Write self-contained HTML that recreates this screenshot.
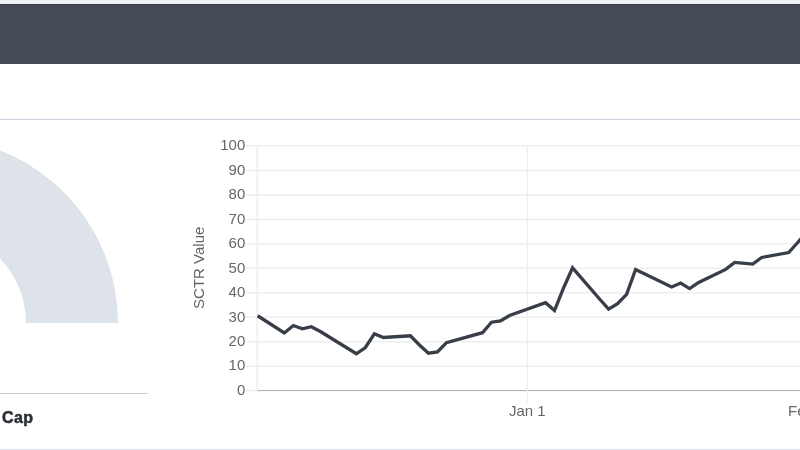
<!DOCTYPE html>
<html><head><meta charset="utf-8">
<style>
html,body{margin:0;padding:0;width:800px;height:450px;overflow:hidden;background:#fff;}
body{position:relative;font-family:"Liberation Sans",sans-serif;}
.strip{position:absolute;left:0;top:0;width:800px;height:4px;background:#eff3f6;}
.band{position:absolute;left:0;top:4px;width:800px;height:60px;background:#454b56;border-top:1px solid #3a404a;box-sizing:border-box;}
.div1{position:absolute;left:0;top:119px;width:800px;height:1px;background:#c8d3dd;}
.capline{position:absolute;left:0;top:393px;width:148px;height:1px;background:#c4cfd9;}
.cap{position:absolute;left:2px;top:408px;font-size:16px;font-weight:bold;color:#2b3037;line-height:20px;will-change:transform;-webkit-text-stroke:0.5px #2b3037;letter-spacing:0.4px;}
.bot{position:absolute;left:0;top:449px;width:800px;height:1px;background:#dee4ea;}
svg{position:absolute;left:0;top:0;will-change:transform;}
</style></head><body>
<div class="strip"></div>
<div class="band"></div>
<div class="div1"></div>
<svg width="800" height="450" viewBox="0 0 800 450">
<path d="M -252 323 A 185 185 0 0 1 118 323 L 26 323 A 93 93 0 0 0 -160 323 Z" fill="#dde3e9"/>
<g><line x1="246" y1="390.60" x2="257.3" y2="390.60" stroke="#eeeeee" stroke-width="1.5"/><line x1="257.3" y1="390.60" x2="800" y2="390.60" stroke="#ababab" stroke-width="1"/><line x1="246" y1="366.14" x2="800" y2="366.14" stroke="#eeeeee" stroke-width="1.5"/><line x1="246" y1="341.68" x2="800" y2="341.68" stroke="#eeeeee" stroke-width="1.5"/><line x1="246" y1="317.22" x2="800" y2="317.22" stroke="#eeeeee" stroke-width="1.5"/><line x1="246" y1="292.76" x2="800" y2="292.76" stroke="#eeeeee" stroke-width="1.5"/><line x1="246" y1="268.30" x2="800" y2="268.30" stroke="#eeeeee" stroke-width="1.5"/><line x1="246" y1="243.84" x2="800" y2="243.84" stroke="#eeeeee" stroke-width="1.5"/><line x1="246" y1="219.38" x2="800" y2="219.38" stroke="#eeeeee" stroke-width="1.5"/><line x1="246" y1="194.92" x2="800" y2="194.92" stroke="#eeeeee" stroke-width="1.5"/><line x1="246" y1="170.46" x2="800" y2="170.46" stroke="#eeeeee" stroke-width="1.5"/><line x1="246" y1="146.00" x2="800" y2="146.00" stroke="#eeeeee" stroke-width="1.5"/>
<line x1="257.3" y1="146" x2="257.3" y2="390.6" stroke="#eeeeee" stroke-width="1.5"/>
<line x1="527.5" y1="146" x2="527.5" y2="402.5" stroke="#eeeeee" stroke-width="1.5"/>
</g>
<g font-family="Liberation Sans" font-size="15" fill="#666"><text x="245.3" y="394.90" text-anchor="end">0</text><text x="245.3" y="370.44" text-anchor="end">10</text><text x="245.3" y="345.98" text-anchor="end">20</text><text x="245.3" y="321.52" text-anchor="end">30</text><text x="245.3" y="297.06" text-anchor="end">40</text><text x="245.3" y="272.60" text-anchor="end">50</text><text x="245.3" y="248.14" text-anchor="end">60</text><text x="245.3" y="223.68" text-anchor="end">70</text><text x="245.3" y="199.22" text-anchor="end">80</text><text x="245.3" y="174.76" text-anchor="end">90</text><text x="245.3" y="150.30" text-anchor="end">100</text>
<text x="527.3" y="416" text-anchor="middle">Jan 1</text>
<text x="807.3" y="416" text-anchor="middle">Feb 1</text>
<text transform="translate(204,267.8) rotate(-90)" text-anchor="middle" font-size="15">SCTR Value</text>
</g>
<polyline points="257.6,315.75 284.32,333.00 293.33,325.50 302.34,328.75 311.34,326.75 320.35,331.50 356.38,353.75 365.38,347.50 374.39,333.75 383.40,337.50 410.42,335.75 419.43,345.00 428.43,353.25 437.44,352.00 446.45,342.60 482.48,332.70 491.48,322.20 500.49,321.00 509.50,315.50 545.52,302.70 554.53,310.50 563.54,288.00 572.55,267.80 599.57,299.00 608.57,309.10 617.58,303.70 626.59,294.40 635.59,269.50 671.62,286.90 680.63,283.00 689.64,288.60 698.64,282.50 725.66,269.40 734.67,262.40 752.68,264.10 761.69,257.50 788.71,252.60 797.72,242.50 806.73,232.00" fill="none" stroke="#383e48" stroke-width="3.3" stroke-linejoin="miter" stroke-miterlimit="10" stroke-linecap="butt"/>
</svg>
<div class="capline"></div>
<div class="cap">Cap</div>
<div class="bot"></div>
</body></html>
